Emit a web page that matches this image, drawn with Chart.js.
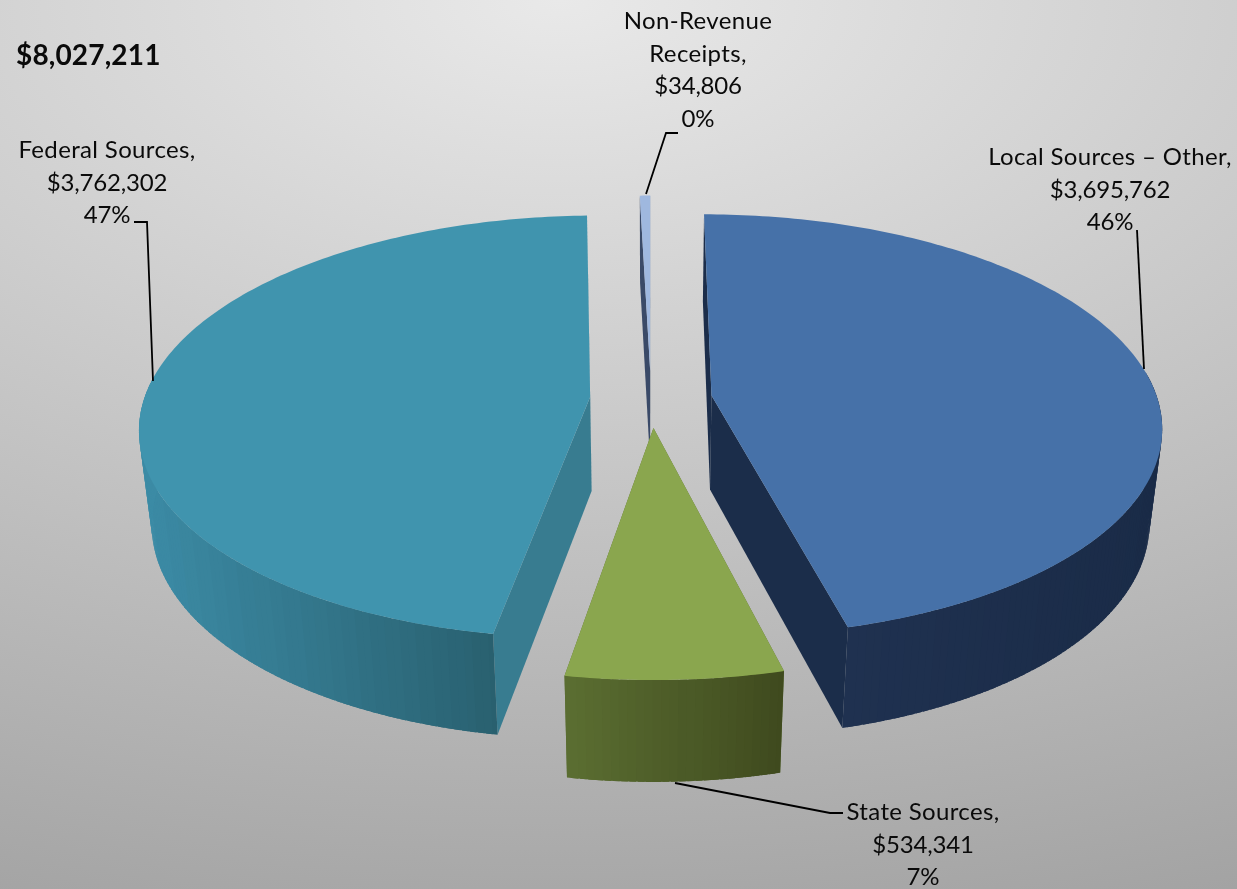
<!DOCTYPE html>
<html>
<head>
<meta charset="utf-8">
<style>
  html, body { margin: 0; padding: 0; background: #c8c8c8; overflow: hidden; }
  #wrap { position: relative; width: 1237px; height: 889px;
    background: radial-gradient(ellipse 1680px 889px at 560px 0px, #e9e9e9 0%, #9b9b9b 120%); }
  canvas { display: block; }
</style>
<script src="https://cdn.jsdelivr.net/npm/chart.js@4/dist/chart.umd.js"></script>
</head>
<body>
<div id="wrap"><canvas id="revenue" width="1237" height="889"></canvas></div>
<script>
// Revenue by source, clockwise from twelve o'clock
const categories = ['Local Sources \u2013 Other', 'State Sources', 'Federal Sources', 'Non-Revenue Receipts'];
const revenue = [3695762, 534341, 3762302, 34806];
const topColors = ['#4671a8', '#8aa64e', '#4094ae', '#9fb8df'];
const cutColors = ['#1b2d4a', '#5b6e30', '#387c90', '#3a4a68'];
const wallStart = ['#1f3150', '#5a6d31', '#3c8ba5', '#3a4a68'];
const wallEnd = ['#1a2b47', '#3f4a1e', '#29606f', '#3a4a68'];

// Perspective of the disc, in pixels, and how far each slice is pulled out
const VIEW = { cx: 651, cy: 399, fx: 446, fy: 207.6, persp: 0.141, depth: 97, shrinkX: 0.025, shrinkY: 0.03 };
const EXPLODE = 0.137;
const WALL_BANDS = 24;

function project(u, v, z) {
  const w = 1 - VIEW.persp * v;
  return {
    x: VIEW.cx + VIEW.fx * u / (w + VIEW.shrinkX * z),
    y: VIEW.cy + (VIEW.fy * v + VIEW.depth * z) / (w + VIEW.shrinkY * z)
  };
}

function mix(a, b, t) {
  const pa = parseInt(a.slice(1), 16), pb = parseInt(b.slice(1), 16);
  const ch = s => Math.round(((pa >> s) & 255) * (1 - t) + ((pb >> s) & 255) * t);
  return `rgb(${ch(16)},${ch(8)},${ch(0)})`;
}

class Arc3d extends Chart.ArcElement {
  static id = 'arc3d';
  static defaults = { top: '#000000', cut: '#000000', wallA: '#000000', wallB: '#000000' };
  draw(ctx) {
    const a0 = this.startAngle + Math.PI / 2, a1 = this.endAngle + Math.PI / 2;
    const mid = (a0 + a1) / 2;
    const ox = EXPLODE * Math.sin(mid), oy = -EXPLODE * Math.cos(mid);
    const rim = (a, z) => project(ox + Math.sin(a), oy - Math.cos(a), z);
    const hub = z => project(ox, oy, z);
    const steps = Math.max(3, Math.ceil((a1 - a0) * 60));
    const { top, cut, wallA, wallB } = this.options;

    const quad = (p, q, r, s, fill) => {
      ctx.fillStyle = fill;
      ctx.beginPath(); ctx.moveTo(p.x, p.y); ctx.lineTo(q.x, q.y); ctx.lineTo(r.x, r.y); ctx.lineTo(s.x, s.y);
      ctx.closePath(); ctx.fill();
    };

    // Cut faces first, then the rim wall, then the top of the slice
    quad(hub(0), rim(a0, 0), rim(a0, 1), hub(1), cut);
    quad(hub(0), rim(a1, 0), rim(a1, 1), hub(1), cut);

    // The rim is shaded in flat vertical bands that darken from left to right;
    // only the part facing the viewer shows
    const visible = [];
    for (let i = 0; i < steps; i++) {
      const s = a0 + (a1 - a0) * i / steps, e = a0 + (a1 - a0) * (i + 1) / steps;
      if (Math.cos((s + e) / 2) <= 0.1) visible.push([s, e]);
    }
    const xs = visible.flat().map(a => rim(a, 0).x);
    const minX = Math.min(...xs), maxX = Math.max(...xs);
    // Neighbouring strips overlap by a hair so no seams open between them
    const pad = (a1 - a0) / steps * 0.4;
    visible.forEach(([s, e]) => {
      const t = (rim((s + e) / 2, 0).x - minX) / Math.max(1, maxX - minX);
      const band = Math.round(t * WALL_BANDS) / WALL_BANDS;
      const from = Math.max(a0, s - pad), to = Math.min(a1, e + pad);
      quad(rim(from, 0), rim(to, 0), rim(to, 1), rim(from, 1), mix(wallA, wallB, band));
    });

    ctx.fillStyle = top;
    ctx.beginPath();
    const h = hub(0); ctx.moveTo(h.x, h.y);
    for (let i = 0; i <= steps; i++) {
      const p = rim(a0 + (a1 - a0) * i / steps, 0);
      ctx.lineTo(p.x, p.y);
    }
    ctx.closePath(); ctx.fill();
  }
}

class Pie3dController extends Chart.PieController {
  static id = 'pie3d';
  static defaults = { dataElementType: 'arc3d' };
  draw() {
    // Paint from the back of the disc to the front
    const elems = this._cachedMeta.data.slice();
    const depth = el => -Math.cos((el.startAngle + el.endAngle) / 2 + Math.PI / 2);
    elems.sort((p, q) => depth(p) - depth(q));
    elems.forEach(el => el.draw(this.chart.ctx, this.chart.chartArea));
  }
}
Chart.register(Arc3d, Pie3dController);

const money = n => '$' + n.toLocaleString('en-US');
const total = revenue.reduce((s, n) => s + n, 0);
const pct = n => Math.round(n / total * 100) + '%';

// Label anchors: centre x, first baseline, wrapped name lines, leader polyline
const labelLayout = [
  { x: 1110, y: 165, name: ['Local Sources \u2013 Other,'], leader: [[1137, 230], [1144, 369]] },
  { x: 923, y: 820, name: ['State Sources,'], leader: [[843, 813], [830, 813], [675, 783]] },
  { x: 107, y: 158, name: ['Federal Sources,'], leader: [[134, 222], [147, 222], [153, 381]] },
  { x: 698, y: 29, name: ['Non-Revenue', 'Receipts,'], leader: [[678, 133], [666, 133], [646, 194]] }
];

const labelsPlugin = {
  id: 'labels',
  afterDatasetsDraw(chart) {
    const ctx = chart.ctx;
    ctx.save();
    ctx.strokeStyle = '#000'; ctx.lineWidth = 1.8; ctx.lineJoin = 'miter';
    labelLayout.forEach(l => {
      ctx.beginPath();
      l.leader.forEach((p, i) => i ? ctx.lineTo(p[0], p[1]) : ctx.moveTo(p[0], p[1]));
      ctx.stroke();
    });
    ctx.fillStyle = '#0a0a0a'; ctx.textAlign = 'center'; ctx.textBaseline = 'alphabetic';
    ctx.font = '400 24px Lato';
    labelLayout.forEach((l, i) => {
      ctx.letterSpacing = '0.35px';
      l.name.forEach((t, k) => ctx.fillText(t, l.x, l.y + k * 32.7));
      ctx.letterSpacing = '-0.2px';
      ctx.fillText(money(revenue[i]), l.x, l.y + l.name.length * 32.7);
      ctx.fillText(pct(revenue[i]), l.x, l.y + (l.name.length + 1) * 32.7);
    });
    ctx.textAlign = 'left';
    ctx.letterSpacing = '0.15px';
    ctx.font = '700 28px Lato';
    ctx.fillText(money(total), 16, 65);
    ctx.restore();
  }
};

new Chart(document.getElementById('revenue'), {
  type: 'pie3d',
  data: {
    labels: categories,
    datasets: [{ data: revenue, top: topColors, cut: cutColors, wallA: wallStart, wallB: wallEnd, borderWidth: 0 }]
  },
  options: {
    responsive: false,
    animation: false,
    rotation: 0,
    plugins: { legend: { display: false }, tooltip: { enabled: false } }
  },
  plugins: [labelsPlugin]
});
</script>
</body>
</html>
